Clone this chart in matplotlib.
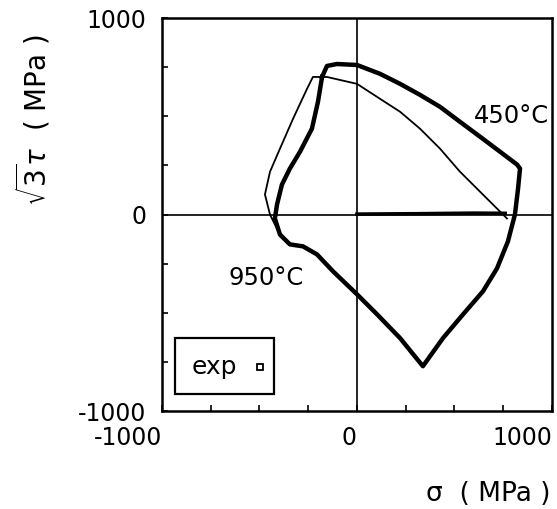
import numpy as np
import matplotlib
matplotlib.use("Agg")
import matplotlib.pyplot as plt
from matplotlib.patches import Rectangle

# outer (thick) loop, sigma / sqrt3*tau in MPa
thick_sig = [-179, -154, -103, 0, 118, 221, 323, 426, 528, 631, 733, 821, 836, 826, 810, 774,
             718, 646, 544, 441, 338, 221, 103, 0, -123, -205, -277, -344, -395, -421, -410,
             -385, -344, -292, -231, -200, -179]
thick_tau = [700, 756, 766, 761, 716, 665, 609, 548, 472, 396, 320, 254, 234, 132, 0, -137,
             -274, -391, -508, -629, -772, -629, -508, -406, -289, -203, -162, -152, -102, -20,
             51, 152, 234, 320, 437, 574, 700]

# inner (thin) path
thin_sig = [769, 615, 528, 426, 323, 221, 118, 0, -154, -226, -256, -328, -395, -446, -472,
            -446, -421, -395]
thin_tau = [-20, 132, 218, 335, 437, 523, 589, 665, 700, 700, 640, 487, 335, 218, 102,
            0, -51, -102]

# loading along sigma axis
load_sig = [0, 300, 600, 760]
load_tau = [2, 4, 7, 6]

fig = plt.figure(figsize=(5.57, 5.09), dpi=100)
ax = fig.add_axes([0.2908, 0.1925, 0.7002, 0.7721])

ax.axhline(0, color="black", lw=1.2)
ax.axvline(0, color="black", lw=1.2)

ax.plot(thick_sig, thick_tau, color="black", lw=3.2, solid_joinstyle="round")
ax.plot(thin_sig, thin_tau, color="black", lw=1.3)
ax.plot(load_sig, load_tau, color="black", lw=2.6)

ax.text(790, 500, "450°C", fontsize=17.5, ha="center", va="center")
ax.text(-467, -325, "950°C", fontsize=17.5, ha="center", va="center")

ax.add_patch(Rectangle((-933, -914), 507, 285, fill=False, lw=1.6, ec="black"))
ax.text(-730, -775, "exp", fontsize=18, ha="center", va="center")
ax.plot([-495], [-775], marker="s", ms=4, mfc="white", mec="black", mew=1.3)

ax.set_xlim(-1000, 1000)
ax.set_ylim(-1000, 1000)
ax.set_xticks(np.arange(-1000, 1001, 250))
ax.set_yticks(np.arange(-1000, 1001, 250))
ax.set_xticklabels(["-1000", "", "", "", "0", "", "", "", "1000"], ha="right")
ax.set_yticklabels(["-1000", "", "", "", "0", "", "", "", "1000"])
ax.tick_params(direction="in", length=4, width=1.2, labelsize=17)
ax.tick_params(axis="x", pad=11)
ax.tick_params(axis="y", pad=11)
for s in ax.spines.values():
    s.set_linewidth(1.8)

fig.text(0.988, 0.03, "σ  ( MPa )", fontsize=19, ha="right", va="center")
fig.text(0.06, 0.765, r"$\sqrt{3}\tau$  ( MPa )", fontsize=20, rotation=90,
         ha="center", va="center")

fig.savefig("out.png", dpi=100)
